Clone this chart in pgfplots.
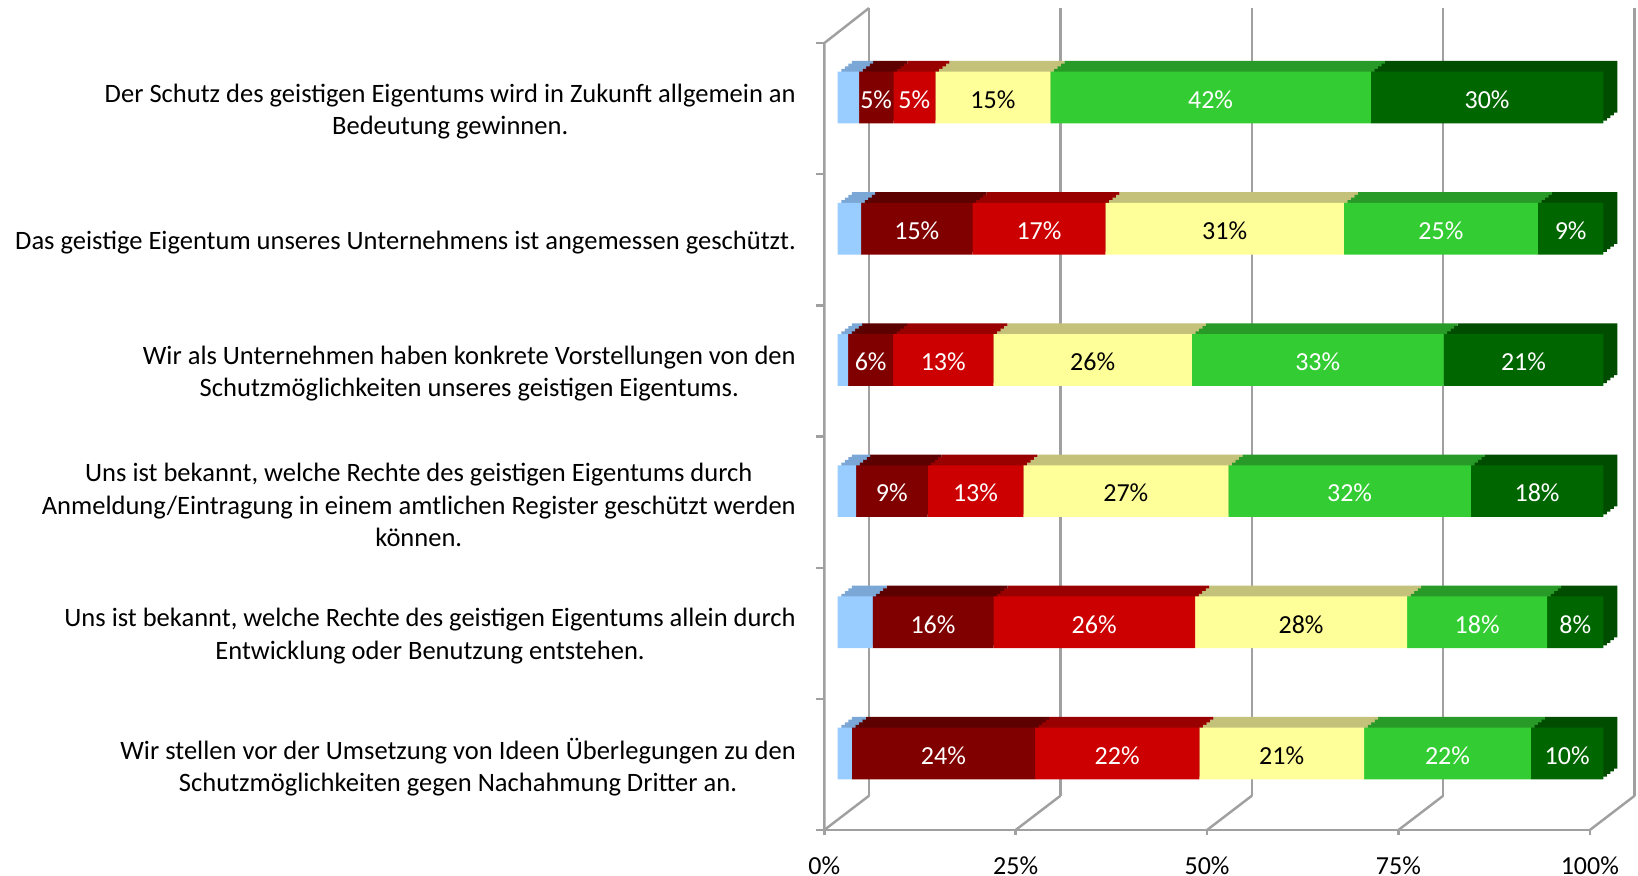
\documentclass[border=0pt]{standalone}
\usepackage{pgfplots}
\pgfplotsset{compat=1.18}
\usepackage{pgfplotstable}
\usepackage{fontspec}
\setmainfont{Carlito}

\definecolor{cB}{RGB}{153,204,255}
\definecolor{cBt}{RGB}{122,167,214}
\definecolor{cDR}{RGB}{128,0,0}
\definecolor{cDRt}{RGB}{92,0,0}
\definecolor{cR}{RGB}{204,0,0}
\definecolor{cRt}{RGB}{153,0,0}
\definecolor{cY}{RGB}{255,255,153}
\definecolor{cYt}{RGB}{196,194,122}
\definecolor{cG}{RGB}{51,204,51}
\definecolor{cGt}{RGB}{40,154,40}
\definecolor{cDG}{RGB}{0,102,0}
\definecolor{cDGt}{RGB}{0,77,0}
\definecolor{cGrid}{RGB}{160,160,160}

% geometry values (percent), labels as printed
\pgfplotstableread{
row blue dr red yel grn dgr ldr lred lyel lgrn ldgr
6 2.78 4.48 5.49 15.02 41.85 30.38 5 5 15 42 30
5 3.06 14.54 17.37 31.14 25.34 8.57 15 17 31 25 9
4 1.37 5.86 13.10 25.93 32.88 20.86 6 13 26 33 21
3 2.39 9.36 12.49 26.78 31.67 17.31 9 13 27 32 18
2 4.57 15.75 26.35 27.70 18.29 7.34 16 26 28 18 8
1 1.83 23.94 21.46 21.51 21.81 9.44 24 22 21 22 10
}\datatable

\pgfplotsset{
  base/.style={scale only axis, width=84.06mm, height=83.21mm,
    xmin=-5.4, xmax=104.4, ymin=0.4, ymax=6.7425, enlargelimits=false,
    anchor=south west, clip=false},
  copyax/.style={base, hide axis, xbar stacked, bar width=5.17mm},
  gl/.style={cGrid, line width=0.7pt, line join=round},
}

\newcommand\topcopy[2]{%
\begin{axis}[copyax, at={(#1,#2)}]
\addplot[fill=cBt, draw=none] table[x=blue,y=row]{\datatable};
\addplot[fill=cDRt, draw=none] table[x=dr,y=row]{\datatable};
\addplot[fill=cRt, draw=none] table[x=red,y=row]{\datatable};
\addplot[fill=cYt, draw=none] table[x=yel,y=row]{\datatable};
\addplot[fill=cGt, draw=none] table[x=grn,y=row]{\datatable};
\addplot[fill=cDGt, draw=none] table[x=dgr,y=row]{\datatable};
\end{axis}}

\begin{document}
\begin{tikzpicture}
\useasboundingbox (0,0) rectangle (163.8mm,87.6mm);
% walls and grid
\begin{axis}[base, hide axis, at={(79.64mm,4.378mm)}]
\addplot[gl] coordinates {(4.09,0.678) (4.09,6.682)};
\addplot[gl] coordinates {(29.09,0.678) (29.09,6.682)};
\addplot[gl] coordinates {(54.09,0.678) (54.09,6.682)};
\addplot[gl] coordinates {(79.09,0.678) (79.09,6.682)};
\addplot[gl] coordinates {(104.09,0.678) (104.09,6.682)};
\addplot[gl] coordinates {(-1.76,0.417) (4.09,0.678)};
\addplot[gl] coordinates {(23.24,0.417) (29.09,0.678)};
\addplot[gl] coordinates {(48.24,0.417) (54.09,0.678)};
\addplot[gl] coordinates {(73.24,0.417) (79.09,0.678)};
\addplot[gl] coordinates {(98.24,0.417) (104.09,0.678)};
\addplot[gl] coordinates {(-1.76,0.417) (98.24,0.417)};
\addplot[gl] coordinates {(4.09,6.682) (-1.76,6.415) (-1.76,0.417)};
\addplot[gl] coordinates {(-2.88,6.415) (-1.76,6.415)};
\addplot[gl] coordinates {(-2.88,5.415) (-1.76,5.415)};
\addplot[gl] coordinates {(-2.88,4.415) (-1.76,4.415)};
\addplot[gl] coordinates {(-2.88,3.415) (-1.76,3.415)};
\addplot[gl] coordinates {(-2.88,2.415) (-1.76,2.415)};
\addplot[gl] coordinates {(-2.88,1.415) (-1.76,1.415)};
\addplot[gl] coordinates {(-2.88,0.417) (-1.76,0.417)};
\addplot[gl] coordinates {(-1.76,0.417) (-1.76,0.379)};
\addplot[gl] coordinates {(23.24,0.417) (23.24,0.379)};
\addplot[gl] coordinates {(48.24,0.417) (48.24,0.379)};
\addplot[gl] coordinates {(73.24,0.417) (73.24,0.379)};
\addplot[gl] coordinates {(98.24,0.417) (98.24,0.379)};
\end{axis}
% depth of the bars (top and side faces)
\topcopy{81.04mm}{5.448mm}
\topcopy{80.69mm}{5.1805mm}
\topcopy{80.34mm}{4.913mm}
\topcopy{79.99mm}{4.6455mm}
% front faces, labels
\begin{axis}[base, at={(79.64mm,4.378mm)}, xbar stacked, bar width=5.17mm,
  axis line style={draw=none}, major tick length=0pt,
  xtick={-1.76,23.24,48.24,73.24,98.24},
  xticklabels={0\%,25\%,50\%,75\%,100\%},
  xticklabel style={anchor=north, inner sep=0pt, yshift=-2.38mm, font=\fontsize{7.4}{9}\selectfont},
  ytick={0.894,1.894,2.894,3.894,4.894,5.894},
  yticklabels={
    {Wir stellen vor der Umsetzung von Ideen Überlegungen zu den\\Schutzmöglichkeiten gegen Nachahmung Dritter an.},
    {Uns ist bekannt, welche Rechte des geistigen Eigentums allein durch\\Entwicklung oder Benutzung entstehen.},
    {Uns ist bekannt, welche Rechte des geistigen Eigentums durch\\Anmeldung/Eintragung in einem amtlichen Register geschützt werden\\können.},
    {Wir als Unternehmen haben konkrete Vorstellungen von den\\Schutzmöglichkeiten unseres geistigen Eigentums.},
    {Das geistige Eigentum unseres Unternehmens ist angemessen geschützt.},
    {Der Schutz des geistigen Eigentums wird in Zukunft allgemein an\\Bedeutung gewinnen.}},
  yticklabel style={align=center, inner xsep=0pt, font=\fontsize{7.55}{9.2}\selectfont},
  lab/.style={nodes near coords={\pgfplotspointmeta\%}, point meta=explicit symbolic,
     every node near coord/.append style={anchor=center, yshift=-0.2mm,
       font=\fontsize{7.4}{9}\selectfont, text=#1}},
]
\addplot[fill=cB, draw=none] table[x=blue,y=row]{\datatable};
\addplot[fill=cDR, draw=none, lab=white] table[x=dr,y=row,meta=ldr]{\datatable};
\addplot[fill=cR, draw=none, lab=white] table[x=red,y=row,meta=lred]{\datatable};
\addplot[fill=cY, draw=none, lab=black] table[x=yel,y=row,meta=lyel]{\datatable};
\addplot[fill=cG, draw=none, lab=white] table[x=grn,y=row,meta=lgrn]{\datatable};
\addplot[fill=cDG, draw=none, lab=white] table[x=dgr,y=row,meta=ldgr]{\datatable};
\end{axis}
\end{tikzpicture}
\end{document}
